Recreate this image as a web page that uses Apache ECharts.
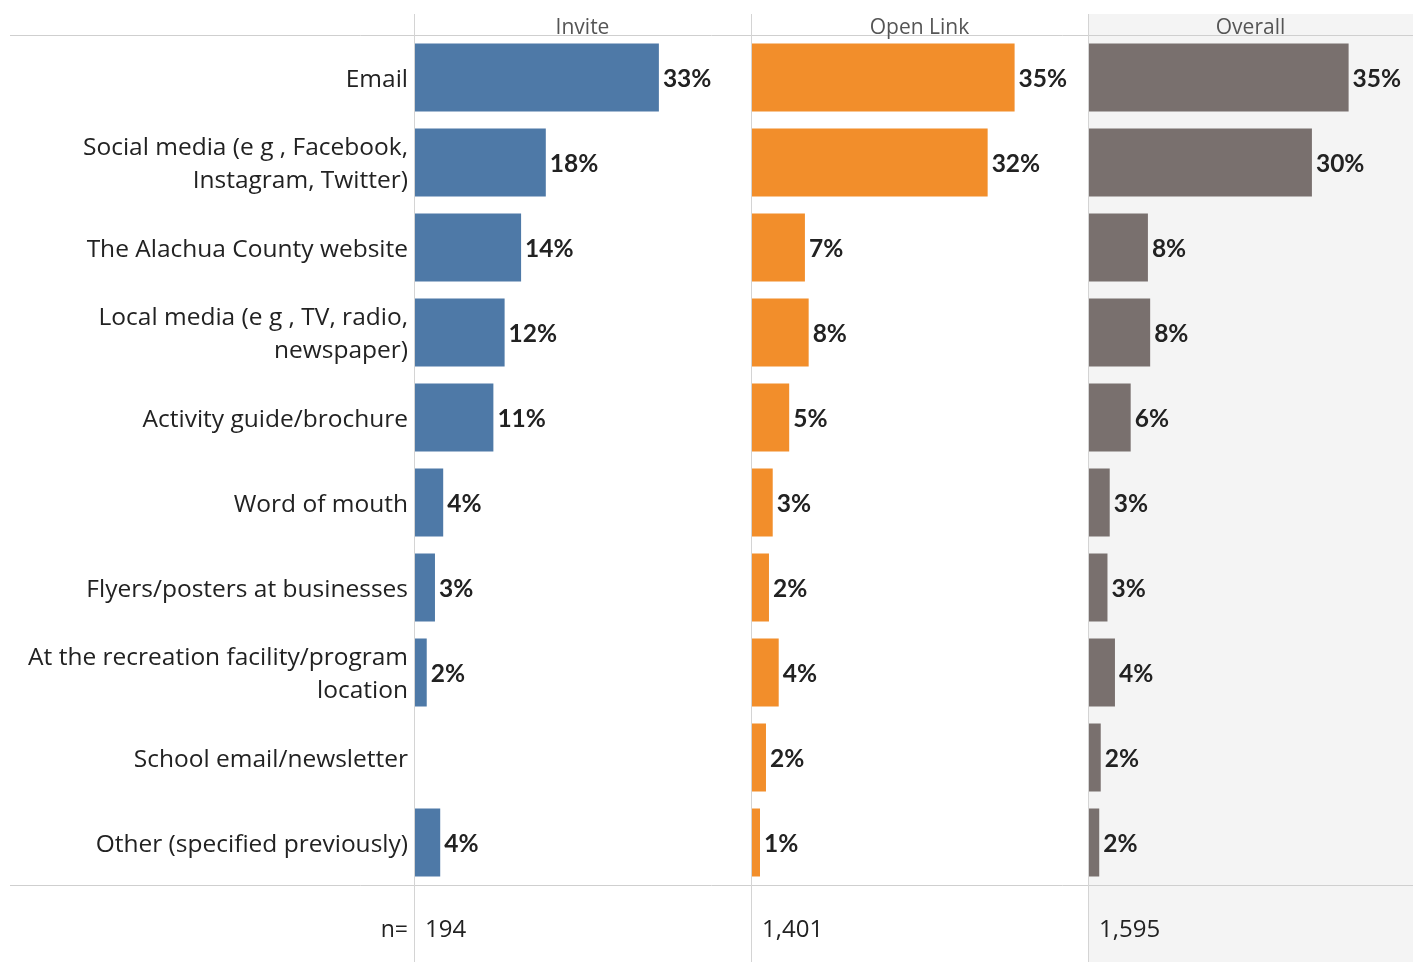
<!DOCTYPE html>
<html><head><meta charset="utf-8">
<script src="https://cdn.jsdelivr.net/npm/echarts@6/dist/echarts.min.js"></script>
<style>html,body{margin:0;padding:0;background:#fff}#c{width:1413px;height:962px}</style>
</head><body><div id="c"></div>
<script>
const categories = [
  'Email',
  'Social media (e g , Facebook,\nInstagram, Twitter)',
  'The Alachua County website',
  'Local media (e g , TV, radio,\nnewspaper)',
  'Activity guide/brochure',
  'Word of mouth',
  'Flyers/posters at businesses',
  'At the recreation facility/program\nlocation',
  'School email/newsletter',
  'Other (specified previously)'
];
const panels = ['Invite', 'Open Link', 'Overall'];
const inviteValues   = [32.7, 17.6, 14.3, 12.1, 10.6, 3.9, 2.8, 1.7, null, 3.5];
const openLinkValues = [35.2, 31.6, 7.2, 7.7, 5.1, 2.9, 2.4, 3.7, 2.0, 1.2];
const overallValues  = [34.8, 29.9, 8.0, 8.3, 5.7, 2.9, 2.6, 3.6, 1.7, 1.5];
const nValues = [194, 1401, 1595];
const colors = ['#4e79a7', '#f28e2b', '#79706e'];

const FONT = 'Open Sans';
const BOLD = 'Lato';
const panelLeft = [414, 751, 1088];
const panelW = [337, 337, 325];
const pxPerUnit = 337 / 45;
const plotTop = 35, plotH = 850;
const seriesData = [inviteValues, openLinkValues, overallValues];

const grids = [], xAxes = [], yAxes = [], series = [];
panels.forEach((p, i) => {
  grids.push({left: panelLeft[i], width: panelW[i], top: plotTop, height: plotH, containLabel: false});
  xAxes.push({type: 'value', gridIndex: i, min: 0, max: panelW[i] / pxPerUnit, show: false});
  yAxes.push({
    type: 'category', gridIndex: i, data: categories, inverse: true, show: false
  });
  series.push({
    type: 'bar', name: p, xAxisIndex: i, yAxisIndex: i, data: seriesData[i],
    barWidth: 68, itemStyle: {color: colors[i]},
    label: {
      show: true, position: 'right', distance: 4, fontFamily: BOLD, fontSize: 24.5,
      fontWeight: 'bold', color: '#222', offset: [0, 1.5],
      formatter: d => d.value == null ? '' : Math.round(d.value) + '%'
    }
  });
});
// category label axis (shifted slightly to align text baseline with the reference)
grids.push({left: 414, width: 1, top: plotTop + 2.5, height: plotH, containLabel: false});
xAxes.push({type: 'value', gridIndex: 3, show: false});
yAxes.push({
  type: 'category', gridIndex: 3, data: categories, inverse: true,
  axisLine: {show: false}, axisTick: {show: false}, splitLine: {show: false},
  axisLabel: {
    show: true, align: 'right', margin: 6, fontFamily: FONT, fontSize: 24.5,
    lineHeight: 33, color: '#222'
  }
});

const lineStyle = {stroke: '#d4d4d4', lineWidth: 1};
const graphic = [
  {type: 'rect', z: -10, shape: {x: 1088, y: 14, width: 325, height: 948}, style: {fill: '#f4f4f4'}},
  {type: 'line', shape: {x1: 10, y1: 35.5, x2: 1413, y2: 35.5}, style: {stroke: '#cfcfcf', lineWidth: 1}},
  {type: 'line', shape: {x1: 10, y1: 885.5, x2: 1413, y2: 885.5}, style: {stroke: '#cfcfcf', lineWidth: 1}},
  {type: 'text', style: {text: 'n=', x: 408, y: 930, align: 'right', verticalAlign: 'middle', font: '23px ' + FONT, fill: '#222'}}
];
panels.forEach((p, i) => {
  graphic.push({type: 'line', z: 5, shape: {x1: panelLeft[i] + 0.5, y1: 14, x2: panelLeft[i] + 0.5, y2: 962}, style: lineStyle});
  graphic.push({type: 'text', style: {text: p, x: panelLeft[i] + panelW[i] / 2, y: 28, align: 'center', verticalAlign: 'middle', font: '21px ' + FONT, fill: '#555'}});
  graphic.push({type: 'text', style: {text: nValues[i].toLocaleString('en-US'), x: panelLeft[i] + 11, y: 930, align: 'left', verticalAlign: 'middle', font: '24px ' + FONT, fill: '#222'}});
});

const chart = echarts.init(document.getElementById('c'));
chart.setOption({
  animation: false,
  grid: grids, xAxis: xAxes, yAxis: yAxes, series: series, graphic: graphic
});
</script></body></html>
